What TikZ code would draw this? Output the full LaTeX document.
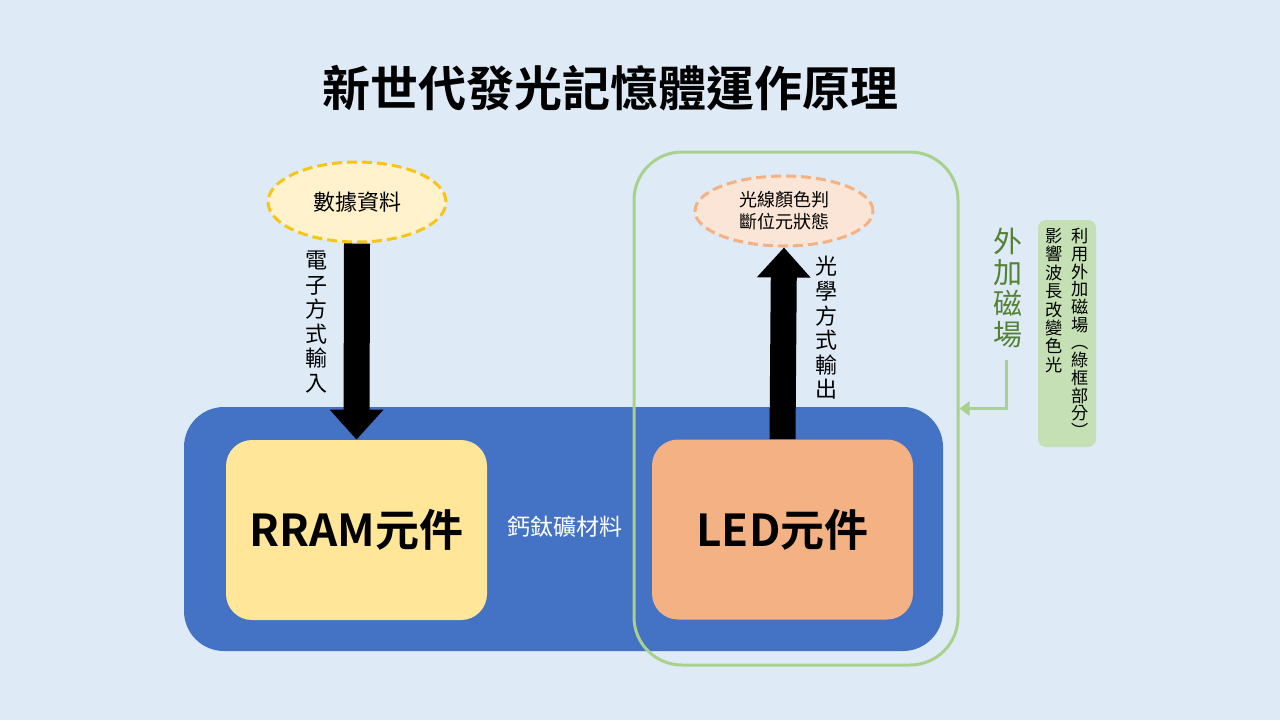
\documentclass[tikz,border=0pt]{standalone}
\usepackage{fontspec}
\setmainfont{Noto Sans CJK TC}[BoldFont={Noto Sans CJK TC Bold}]
\usetikzlibrary{shapes.geometric,arrows.meta}
\definecolor{bgblue}{HTML}{DEEBF7}
\definecolor{matblue}{HTML}{4472C4}
\definecolor{rramfill}{HTML}{FFE699}
\definecolor{ledfill}{HTML}{F4B183}
\definecolor{framegreen}{HTML}{A9D18E}
\definecolor{labelgreen}{HTML}{C5E0B4}
\definecolor{textgreen}{HTML}{548235}
\definecolor{e1fill}{HTML}{FFF2CC}
\definecolor{e1line}{HTML}{F5C518}
\definecolor{e2fill}{HTML}{FBE5D6}
\definecolor{e2line}{HTML}{F4B183}
\tikzset{
  devbox/.style={rounded corners=13pt, minimum width=130.5pt, minimum height=90pt, inner sep=0pt, font=\fontsize{22pt}{26pt}\selectfont\bfseries},
  dataell/.style={ellipse, inner sep=0pt, minimum width=89pt, line width=1.5pt, dash pattern=on 5pt off 2.5pt},
  bigarrow/.style={line width=13pt, -{Triangle[width=26pt,length=15pt]}},
  vtext/.style={align=center, inner sep=0pt},
}
\begin{document}
\begin{tikzpicture}[x=0.5pt,y=-0.5pt]
\useasboundingbox (0,0) rectangle (1280,720);
\fill[bgblue] (0,0) rectangle (1280,720);
% title
\node (title) at (610,88) {\fontsize{24pt}{28pt}\selectfont\bfseries 新世代發光記憶體運作原理};
% material block
\node[fill=matblue, rounded corners=20pt, minimum width=379.5pt, minimum height=122pt, inner sep=0pt] (mat) at (563.5,529) {};
\node[text=white, font=\fontsize{11.5pt}{13pt}\selectfont] (matlbl) at (565,527) {鈣鈦礦材料};
% devices
\node[devbox, fill=rramfill] (rram) at (356.5,530) {RRAM元件};
\node[devbox, fill=ledfill] (led) at (782.5,529.5) {LED元件};
% green frame
\node[draw=framegreen, line width=1.5pt, rounded corners=24pt, minimum width=162pt, minimum height=256.5pt, inner sep=0pt] (frame) at (796,408.5) {};
% ellipses
\node[dataell, fill=e1fill, draw=e1line, minimum height=40pt, font=\fontsize{11pt}{13pt}\selectfont] (e1) at (357,202) {數據資料};
\node[dataell, fill=e2fill, draw=e2line, minimum height=35pt, align=center, font=\fontsize{9pt}{11pt}\selectfont] (e2) at (784,211) {光線顏色判\\斷位元狀態};
% arrows
\draw[bigarrow] (e1.south) -- (rram.north);
\draw[bigarrow] (led.north) -- (e2.south);
% vertical labels
\node[vtext, font=\fontsize{11pt}{12.3pt}\selectfont] (inlbl) at (316,322) {電\\子\\方\\式\\輸\\入};
\node[vtext, font=\fontsize{11pt}{12.3pt}\selectfont] (outlbl) at (826,328) {光\\學\\方\\式\\輸\\出};
\node[vtext, text=textgreen, font=\fontsize{14.5pt}{15.6pt}\selectfont] (mag) at (1008,288) {外\\加\\磁\\場};
\draw[framegreen, line width=1.5pt, -{Triangle[width=7pt,length=5pt]}] (1006,360) coordinate (magend) |- (frame.east);
% note box
\node[fill=labelgreen, rounded corners=4pt, minimum width=29pt, minimum height=113.5pt, inner sep=0pt] (note) at (1067,333.5) {};
\node[vtext, anchor=north, font=\fontsize{8.6pt}{8.85pt}\selectfont] (note1) at (1080,228) {利\\用\\外\\加\\磁\\場\\︵\\綠\\框\\部\\分\\︶};
\node[vtext, anchor=north, font=\fontsize{8.6pt}{9.2pt}\selectfont] (note2) at (1054,228) {影\\響\\波\\長\\改\\變\\色\\光};
\end{tikzpicture}
\end{document}
